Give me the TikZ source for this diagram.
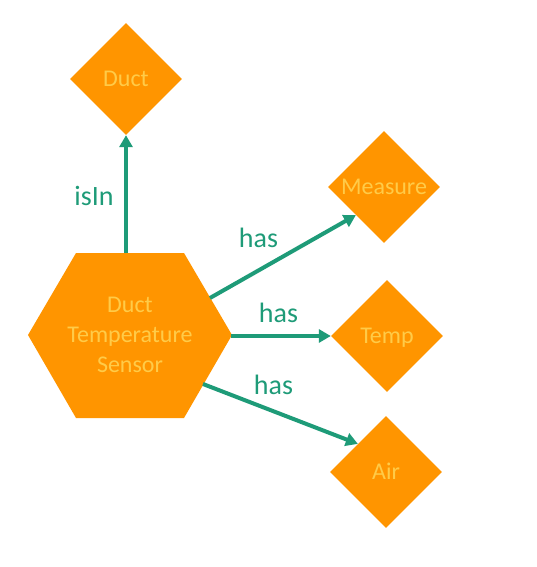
\documentclass[tikz,border=0pt]{standalone}
\usepackage{fontspec}
\setmainfont{Carlito}
\usetikzlibrary{shapes.geometric,arrows.meta}
\definecolor{boxorange}{RGB}{255,149,0}
\definecolor{boxtext}{RGB}{255,203,72}
\definecolor{linkgreen}{RGB}{30,155,120}
\tikzset{
  dia/.style={diamond, fill=boxorange, draw=none, inner sep=0pt, minimum size=112pt,
    text=boxtext, font=\fontsize{24}{29}\selectfont, text height=15.5pt, text depth=0pt},
  hexfill/.style={fill=boxorange, draw=none},
  hextext/.style={text=boxtext, align=center, font=\fontsize{24}{30}\selectfont, inner sep=0pt},
  link/.style={draw=linkgreen, line width=4pt, -{Triangle[length=12pt,width=13pt]}},
  lbl/.style={text=linkgreen, font=\fontsize{28}{34}\selectfont, anchor=base, inner sep=0pt}
}
\begin{document}
\begin{tikzpicture}[x=1pt,y=-1pt]
\useasboundingbox (0,0) rectangle (536,567);
\fill[white] (0,0) rectangle (536,567);
% hexagon
\fill[hexfill] (28,335) -- (76,253) -- (184,253) -- (232,335) -- (184,418) -- (76,418) -- cycle;
\node[hextext] (hex) at (130,335) {Duct\\Temperature\\Sensor};
\coordinate (hexTop) at (126,253);
\coordinate (hexUR) at (210,298);
\coordinate (hexR) at (231,336);
\coordinate (hexLR) at (203,384);
% diamonds
\node[dia] (duct) at (126,79) {Duct};
\node[dia] (measure) at (384,187) {Measure};
\node[dia] (temp) at (387,336) {Temp};
\node[dia] (air) at (386,472) {Air};
% links
\draw[link] (hexTop) -- (duct.south);
\draw[link] (hexUR) -- (measure.south west);
\draw[link] (hexR) -- (temp.west);
\draw[link] (hexLR) -- (air.north west);
% labels
\node[lbl] (l1) at (94,205) {isIn};
\node[lbl] (l2) at (258.5,247) {has};
\node[lbl] (l3) at (278.5,322) {has};
\node[lbl] (l4) at (273.5,394) {has};
\end{tikzpicture}
\end{document}
